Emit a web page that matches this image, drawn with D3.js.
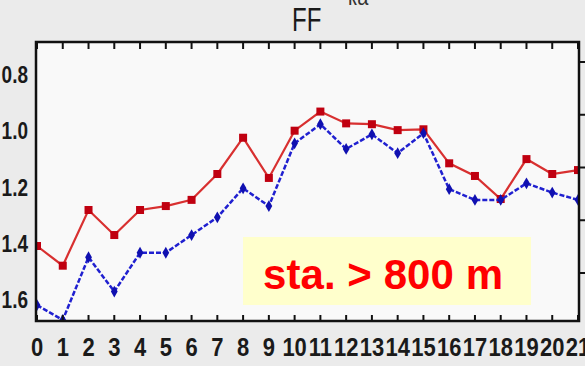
<!DOCTYPE html>
<html><head><meta charset="utf-8">
<script src="https://cdn.jsdelivr.net/npm/d3@7"></script>
<style>html,body{margin:0;padding:0;background:#ebebeb;}svg{display:block;}</style>
</head><body>
<script>
const hours = d3.range(0, 22);
const xTickLabels = hours.map(String);
const redValues = [1.408,1.478,1.280,1.369,1.280,1.266,1.244,1.152,1.023,1.166,0.998,0.930,0.972,0.975,0.996,0.993,1.114,1.159,1.241,1.099,1.152,1.138];
const blueValues = [1.618,1.671,1.448,1.570,1.432,1.432,1.369,1.306,1.203,1.266,1.043,0.975,1.063,1.011,1.078,1.007,1.206,1.244,1.244,1.185,1.218,1.244];
const yTicks = [0.8, 1.0, 1.2, 1.4, 1.6];
const yTickLabels = ["0.8", "1.0", "1.2", "1.4", "1.6"];
const rightTicks = [1, 2, 3, 4, 5];
const titleText = "FF";
const noteText = "sta. > 800 m";

const W = 585, H = 366;
const L = 37, R = 578, T = 42, B = 321;
const svg = d3.select("body").append("svg").attr("width", W).attr("height", H);
svg.append("rect").attr("width", W).attr("height", H).attr("fill", "#ebebeb");

const x = d3.scaleLinear().domain([0, 21]).range([L, R]);
const y = d3.scaleLinear().domain([0.8, 1.6]).range([75, 300]);
const yr = d3.scaleLinear().domain([1, 5]).range([62, 273]);

svg.append("rect").attr("x", L - 1).attr("y", T).attr("width", R - L + 2).attr("height", B - T).attr("fill", "#f9f9f9");

svg.append("defs").append("clipPath").attr("id", "clip")
  .append("rect").attr("x", L - 1).attr("y", T).attr("width", R - L + 2).attr("height", B - T);

// note box
const nb = svg.append("g");
nb.append("rect").attr("x", 243).attr("y", 237).attr("width", 288).attr("height", 68).attr("fill", "#ffffcc");
nb.append("text").attr("x", 263).attr("y", 289).attr("font-family", "Liberation Sans, Arial, sans-serif")
  .attr("font-weight", "bold").attr("font-size", 42).attr("fill", "#ff0000").attr("textLength", 240).text(noteText);

const plot = svg.append("g").attr("clip-path", "url(#clip)");
const line = d3.line().x((d, i) => x(hours[i])).y(d => y(d));

plot.append("path").datum(redValues).attr("d", line).attr("fill", "none")
  .attr("stroke", "#d83030").attr("stroke-width", 2.2);
plot.selectAll(".rm").data(redValues).enter().append("rect")
  .attr("x", (d, i) => x(hours[i]) - 4).attr("y", d => y(d) - 4)
  .attr("width", 8).attr("height", 8).attr("fill", "#c00010");

plot.append("path").datum(blueValues).attr("d", line).attr("fill", "none")
  .attr("stroke", "#2020d0").attr("stroke-width", 2.5).attr("stroke-dasharray", "5,2");
plot.selectAll(".bm").data(blueValues).enter().append("path")
  .attr("d", d3.symbol().type(d3.symbolDiamond).size(40))
  .attr("transform", (d, i) => `translate(${x(hours[i])},${y(d)})`)
  .attr("fill", "#1010b0");

// frame
svg.append("rect").attr("x", L - 1).attr("y", T).attr("width", R - L + 2).attr("height", B - T)
  .attr("fill", "none").attr("stroke", "#111").attr("stroke-width", 2.5);

// top ticks (inward)
svg.append("g").selectAll("line").data(hours).enter().append("line")
  .attr("x1", d => x(d)).attr("x2", d => x(d)).attr("y1", T).attr("y2", T + 7)
  .attr("stroke", "#111").attr("stroke-width", 2);
// bottom ticks (inward)
svg.append("g").selectAll("line").data(hours).enter().append("line")
  .attr("x1", d => x(d)).attr("x2", d => x(d)).attr("y1", B).attr("y2", B - 6)
  .attr("stroke", "#111").attr("stroke-width", 2);
// right ticks (outward)
svg.append("g").selectAll("line").data(rightTicks).enter().append("line")
  .attr("x1", R + 1).attr("x2", W).attr("y1", d => yr(d)).attr("y2", d => yr(d))
  .attr("stroke", "#111").attr("stroke-width", 2);

// x labels
svg.append("g").selectAll("text").data(hours).enter().append("text")
  .attr("transform", d => `translate(${x(d)},356) scale(1,1.2)`)
  .attr("text-anchor", "middle").attr("font-family", "Liberation Sans, Arial, sans-serif")
  .attr("font-weight", "bold").attr("font-size", 22).attr("fill", "#1a1a1a")
  .text((d, i) => xTickLabels[i]);

// y labels
svg.append("g").selectAll("text").data(yTicks).enter().append("text")
  .attr("transform", d => `translate(28,${y(d) + 8}) scale(1,1.25)`)
  .attr("text-anchor", "end").attr("font-family", "Liberation Sans, Arial, sans-serif")
  .attr("font-weight", "bold").attr("font-size", 19).attr("fill", "#1a1a1a")
  .text((d, i) => yTickLabels[i]);

// title
svg.append("text").attr("transform", "translate(292,31) scale(1,1.35)")
  .attr("font-family", "Liberation Sans, Arial, sans-serif").attr("font-size", 24)
  .attr("fill", "#1a1a1a").text(titleText);
svg.append("text").attr("transform", "translate(348,5) scale(1,1.2)")
  .attr("font-family", "Liberation Sans, Arial, sans-serif").attr("font-size", 20)
  .attr("fill", "#333").text("ка");
</script>
</body></html>
